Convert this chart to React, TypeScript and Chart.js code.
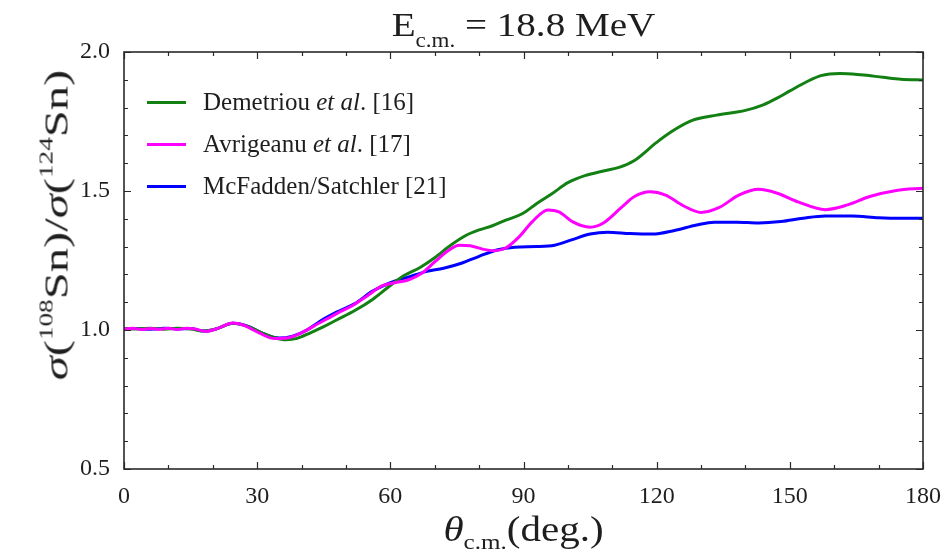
import React, { useEffect, useRef } from "react";
import { Chart, registerables } from "chart.js";

Chart.register(...registerables);

// ---- data ----
const demetriouAngles = [0, 3, 6, 9, 12, 15, 18, 21, 24.5, 28, 31, 34, 36.5, 39, 42, 45, 48, 52, 56, 60, 63, 66.7, 70, 73.6, 77, 80, 83, 86, 89.7, 93, 96.4, 100, 104, 108, 111.7, 115, 120, 124, 128, 133.5, 140, 144, 147, 150, 153.8, 157, 161.3, 166, 171, 175, 180];
const demetriouRatio = [1.005, 1.004, 1.006, 1.003, 1.006, 1.004, 0.996, 1.005, 1.024, 1.012, 0.99, 0.972, 0.965, 0.97, 0.99, 1.012, 1.037, 1.07, 1.11, 1.16, 1.195, 1.225, 1.26, 1.305, 1.34, 1.36, 1.375, 1.395, 1.418, 1.455, 1.49, 1.53, 1.556, 1.572, 1.586, 1.61, 1.675, 1.72, 1.754, 1.773, 1.79, 1.81, 1.833, 1.86, 1.893, 1.915, 1.923, 1.918, 1.909, 1.902, 1.899];

const avrigeanuAngles = [0, 2, 4, 6, 8, 10, 12, 14, 16, 18.5, 21, 24.5, 27, 30, 34, 37, 40, 44, 48, 51.5, 55, 58, 61, 64, 67, 70, 73, 75.5, 78, 81, 83.5, 86, 89, 92, 95.5, 98, 101, 105, 108, 112, 115, 118.5, 122, 126, 130, 134, 138.5, 143, 147, 152, 158, 163, 168, 174, 180];
const avrigeanuRatio = [1.003, 1.006, 1.002, 1.005, 1.003, 1.006, 1.002, 1.006, 1.004, 0.995, 1.005, 1.025, 1.017, 0.993, 0.969, 0.972, 0.99, 1.025, 1.06, 1.088, 1.125, 1.158, 1.17, 1.18, 1.203, 1.245, 1.285, 1.305, 1.303, 1.29, 1.285, 1.295, 1.335, 1.39, 1.432, 1.425, 1.39, 1.37, 1.385, 1.44, 1.48, 1.497, 1.485, 1.447, 1.423, 1.44, 1.485, 1.506, 1.493, 1.46, 1.433, 1.45, 1.48, 1.502, 1.51];

const mcfaddenAngles = [0, 3, 6, 9, 12, 15, 18, 21, 24.5, 28, 31, 35, 38, 41, 44, 48, 52, 56, 60, 64, 68, 72, 76, 80, 84, 88, 93, 97, 101, 105, 109, 114, 119, 124, 129, 133, 138, 143, 148, 153, 158, 164, 170, 175, 180];
const mcfaddenRatio = [1.004, 1.005, 1.003, 1.006, 1.004, 1.005, 0.996, 1.005, 1.024, 1.013, 0.99, 0.971, 0.978, 0.998, 1.03, 1.065, 1.095, 1.14, 1.17, 1.19, 1.21, 1.222, 1.24, 1.265, 1.288, 1.298, 1.3, 1.305, 1.325, 1.345, 1.352, 1.347, 1.345, 1.358, 1.378, 1.388, 1.388, 1.385, 1.39, 1.402, 1.41, 1.41, 1.404, 1.402, 1.402];

const xLabeledTicks = [0, 30, 60, 90, 120, 150, 180];
const yLabeledTicks = [0.5, 1.0, 1.5, 2.0];

const GREEN = "rgb(18,128,18)";
const MAGENTA = "#ff00ff";
const BLUE = "#0000ff";
const TEXT = "#1e1e1e";
const SERIF = '"Liberation Serif", "Times New Roman", serif';

const toPoints = (xs: number[], ys: number[]) => xs.map((x, i) => ({ x, y: ys[i] }));
const isLabeled = (v: number, list: number[]) => list.some((t) => Math.abs(t - v) < 1e-6);

const frameTicks = {
  id: "frameTicks",
  afterDatasetsDraw(chart: any) {
    const { ctx, chartArea, scales } = chart;
    const { left, right, top, bottom } = chartArea;
    const x = scales.x;
    const y = scales.y;
    ctx.save();
    ctx.strokeStyle = "#2a2a2a";
    ctx.lineWidth = 1.2;
    ctx.beginPath();
    x.ticks.forEach((t: any) => {
      const px = Math.round(x.getPixelForValue(t.value)) + 0.5;
      const len = isLabeled(t.value, xLabeledTicks) ? 7 : 4;
      ctx.moveTo(px, bottom);
      ctx.lineTo(px, bottom - len);
      ctx.moveTo(px, top);
      ctx.lineTo(px, top + len);
    });
    y.ticks.forEach((t: any) => {
      const py = Math.round(y.getPixelForValue(t.value)) + 0.5;
      const len = isLabeled(t.value, yLabeledTicks) ? 7 : 4;
      ctx.moveTo(left, py);
      ctx.lineTo(left + len, py);
      ctx.moveTo(right, py);
      ctx.lineTo(right - len, py);
    });
    ctx.stroke();
    ctx.lineWidth = 1.6;
    ctx.strokeRect(left, top, right - left, bottom - top);
    ctx.restore();
  },
};

function LegendRow({ top, color, children }: { top: number; color: string; children: React.ReactNode }) {
  return (
    <div
      style={{
        position: "absolute",
        left: 147,
        top: top - 15,
        height: 30,
        display: "flex",
        alignItems: "center",
        whiteSpace: "nowrap",
        fontFamily: SERIF,
        fontSize: 25,
        color: TEXT,
      }}
    >
      <span style={{ display: "inline-block", width: 39, height: 3, background: color, marginRight: 17 }} />
      <span>{children}</span>
    </div>
  );
}

export default function App() {
  const canvasRef = useRef<HTMLCanvasElement | null>(null);

  useEffect(() => {
    const canvas = canvasRef.current;
    if (!canvas) return;
    const chart = new Chart(canvas, {
      type: "line",
      data: {
        datasets: [
          {
            label: "Avrigeanu et al. [17]",
            data: toPoints(avrigeanuAngles, avrigeanuRatio),
            borderColor: MAGENTA,
            borderWidth: 3,
            pointRadius: 0,
            cubicInterpolationMode: "monotone",
            order: 0,
          },
          {
            label: "Demetriou et al. [16]",
            data: toPoints(demetriouAngles, demetriouRatio),
            borderColor: GREEN,
            borderWidth: 3,
            pointRadius: 0,
            cubicInterpolationMode: "monotone",
            order: 1,
          },
          {
            label: "McFadden/Satchler [21]",
            data: toPoints(mcfaddenAngles, mcfaddenRatio),
            borderColor: BLUE,
            borderWidth: 3,
            pointRadius: 0,
            cubicInterpolationMode: "monotone",
            order: 2,
          },
        ],
      },
      options: {
        animation: false,
        responsive: false,
        devicePixelRatio: 1,
        layout: { padding: { left: 0, top: 52, right: 19, bottom: 0 } },
        plugins: {
          legend: { display: false },
          title: { display: false },
          tooltip: { enabled: false },
        },
        scales: {
          x: {
            type: "linear",
            min: 0,
            max: 180,
            grid: { display: true, drawOnChartArea: false, drawTicks: false },
            border: { display: false },
            ticks: {
              stepSize: 10,
              autoSkip: false,
              maxRotation: 0,
              padding: 13,
              color: TEXT,
              font: { family: SERIF, size: 24 },
              callback: (v: any) => (isLabeled(Number(v), xLabeledTicks) ? String(Number(v)) : ""),
            },
            afterFit: (scale: any) => {
              scale.height = 84;
              scale.paddingLeft = 0;
              scale.paddingRight = 0;
            },
          },
          y: {
            type: "linear",
            min: 0.5,
            max: 2.0,
            grid: { display: true, drawOnChartArea: false, drawTicks: false },
            border: { display: false },
            ticks: {
              stepSize: 0.1,
              autoSkip: false,
              padding: 14,
              color: TEXT,
              font: { family: SERIF, size: 24 },
              callback: (v: any) => (isLabeled(Number(v), yLabeledTicks) ? Number(v).toFixed(1) : ""),
            },
            afterFit: (scale: any) => {
              scale.width = 124;
              scale.paddingTop = 0;
              scale.paddingBottom = 0;
            },
          },
        },
      } as any,
      plugins: [frameTicks],
    });
    return () => chart.destroy();
  }, []);

  return (
    <div style={{ position: "absolute", left: 0, top: 0, width: 942, height: 553, background: "#fff", overflow: "hidden" }}>
      <canvas ref={canvasRef} width={942} height={553} style={{ position: "absolute", left: 0, top: 0, width: 942, height: 553 }} />
      {/* title */}
      <div
        style={{
          position: "absolute",
          left: 124,
          width: 799,
          top: 8,
          textAlign: "center",
          fontFamily: SERIF,
          fontSize: 34,
          lineHeight: 1,
          color: TEXT,
          whiteSpace: "nowrap",
          transform: "scaleX(1.15)",
          transformOrigin: "50% 50%",
        }}
      >
        E<span style={{ fontSize: 20, verticalAlign: -11 }}>c.m.</span> = 18.8 MeV
      </div>
      {/* x axis title */}
      <div
        style={{
          position: "absolute",
          left: 124,
          width: 799,
          top: 511,
          textAlign: "center",
          fontFamily: SERIF,
          fontSize: 36,
          lineHeight: 1,
          color: TEXT,
          whiteSpace: "nowrap",
          transform: "scaleX(1.14)",
          transformOrigin: "50% 50%",
        }}
      >
        <i>θ</i>
        <span style={{ fontSize: 22, verticalAlign: -8 }}>c.m.</span>(deg.)
      </div>
      {/* y axis title */}
      <div
        style={{
          position: "absolute",
          left: 55,
          top: 225,
          transform: "translate(-50%, -50%) rotate(-90deg) scaleX(1.43)",
          fontFamily: SERIF,
          fontSize: 34,
          lineHeight: 1,
          color: TEXT,
          whiteSpace: "nowrap",
        }}
      >
        <i>σ</i>(<span style={{ fontSize: 19, verticalAlign: 15 }}>108</span>Sn)/<i>σ</i>(
        <span style={{ fontSize: 19, verticalAlign: 15 }}>124</span>Sn)
      </div>
      {/* legend */}
      <LegendRow top={102} color={GREEN}>
        Demetriou <i>et al</i>. [16]
      </LegendRow>
      <LegendRow top={144} color={MAGENTA}>
        Avrigeanu <i>et al</i>. [17]
      </LegendRow>
      <LegendRow top={186} color={BLUE}>
        McFadden/Satchler [21]
      </LegendRow>
    </div>
  );
}
